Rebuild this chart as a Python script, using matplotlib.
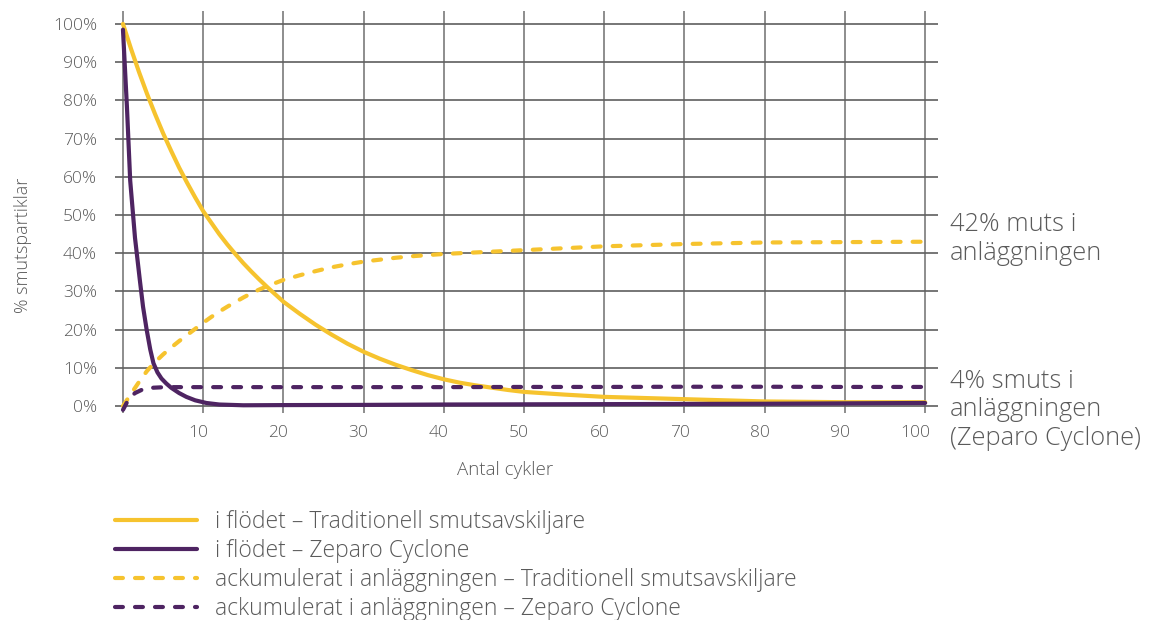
import numpy as np
import matplotlib
matplotlib.use("Agg")
import matplotlib.pyplot as plt
import matplotlib.transforms as mtransforms

plt.rcParams['font.family'] = ['Open Sans', 'DejaVu Sans']
plt.rcParams['font.weight'] = 'light'

# values (cycles, % of dirt particles)
trad_x = [0, 1, 2, 3, 4, 5, 6, 7, 8, 9, 10, 11, 12, 13, 14, 15, 16, 17, 18, 19, 20,
          22, 24, 26, 28, 30, 32, 34, 36, 38, 40, 42, 44, 46, 48, 50, 55, 60, 65, 70, 75, 80, 90, 100]
trad_flow = [100, 93.5, 87.4, 81.7, 76.4, 71.4, 66.8, 62.4, 58.4, 54.6, 51, 48, 45, 42.3, 39.8, 37.4, 35.2, 33.1, 31.1, 29.2, 27.3,
             24.2, 21.3, 18.7, 16.3, 14.2, 12.4, 10.8, 9.4, 8.1, 7.0, 6.1, 5.4, 4.8, 4.2, 3.7, 3.0, 2.4, 2.1, 1.8, 1.5, 1.2, 1.0, 1.0]
trad_acc = [0, 3.2, 6.3, 9.2, 11.5, 13.5, 15.3, 17, 18.6, 20.2, 21.8, 23.3, 24.7, 26.0, 27.2, 28.4, 29.5, 30.5, 31.4, 32.2, 33.0,
            34.2, 35.3, 36.3, 37.1, 37.8, 38.3, 38.8, 39.2, 39.5, 39.8, 40.0, 40.2, 40.4, 40.6, 40.8, 41.3, 41.8, 42.1, 42.4, 42.6, 42.8, 42.9, 43.0]

zep_x = [0, 0.5, 0.9, 1.5, 2.1, 2.5, 2.95, 3.4, 3.8, 4.3, 4.8, 5.4, 6, 7, 7.9, 9, 10.4, 12, 15, 20, 30, 40, 50, 60, 70, 80, 90, 100]
zep_flow = [98.5, 78, 59, 44, 33, 26, 20, 14.8, 11.2, 8.8, 7.2, 5.9, 4.8, 3.4, 2.4, 1.5, 0.8, 0.4, 0.2, 0.25, 0.3, 0.4, 0.45, 0.5, 0.55, 0.6, 0.7, 0.8]
zep_acc = [-1.0, 1.0, 2.2, 3.4, 4.0, 4.4, 4.6, 4.7, 4.8, 4.85, 4.9, 4.95, 4.95, 4.95, 4.95, 4.95, 4.95, 4.95, 4.95, 4.95, 4.95, 4.95, 5.0, 5.0, 5.05, 5.05, 5.0, 5.0]

x_ticks = [10, 20, 30, 40, 50, 60, 70, 80, 90, 100]
y_ticks = [0, 10, 20, 30, 40, 50, 60, 70, 80, 90, 100]

labels = ["i flödet – Traditionell smutsavskiljare",
          "i flödet – Zeparo Cyclone",
          "ackumulerat i anläggningen – Traditionell smutsavskiljare",
          "ackumulerat i anläggningen – Zeparo Cyclone"]

yellow = "#F6C32E"
purple = "#4E2462"
grey = "#5a5a5a"
dash = (0, (1.9, 2.9))

fig = plt.figure(figsize=(11.53, 6.2), dpi=100)
ax = fig.add_axes([0.0997, 0.334, 0.7138, 0.649])

l1, = ax.plot(trad_x, trad_flow, color=yellow, lw=3, solid_capstyle='round', zorder=3)
l2, = ax.plot(zep_x, zep_flow, color=purple, lw=3, solid_capstyle='round', zorder=4)
l3, = ax.plot(trad_x, trad_acc, color=yellow, lw=3, linestyle=dash, dash_capstyle='round', zorder=3)
l4, = ax.plot(zep_x, zep_acc, color=purple, lw=3, linestyle=dash, dash_capstyle='round', zorder=4)

ax.set_xlim(-1, 101.6)
ax.set_ylim(-1.8, 103.5)
for v in [0] + x_ticks:
    ax.axvline(v, color="#7a7a7a", lw=1.2, zorder=1)
for v in y_ticks:
    ax.axhline(v, color="#5f5f5f", lw=1.2, zorder=1)

ax.set_xticks(x_ticks)
ax.set_xticklabels([str(t) for t in x_ticks])
ax.set_yticks(y_ticks)
ax.set_yticklabels([f"{t}%" for t in y_ticks])
ax.tick_params(length=0, labelsize=12.5, colors=grey)
ax.tick_params(axis='y', pad=13)
ax.tick_params(axis='x', pad=9)
offset = mtransforms.ScaledTranslation(5 / 100, 0, fig.dpi_scale_trans)
for lab in ax.get_xticklabels():
    lab.set_horizontalalignment('right')
    lab.set_transform(lab.get_transform() + offset)
for s in ax.spines.values():
    s.set_visible(False)

fig.text(505 / 1153, 1 - 470 / 620, "Antal cykler", fontsize=13.5, color=grey,
         ha='center', va='center')
fig.text(23 / 1153, 1 - 245 / 620, "% smutspartiklar", rotation=90, fontsize=13, color=grey,
         ha='center', va='center')

fig.text(950 / 1153, 1 - 239 / 620, "42% muts i\nanläggningen", fontsize=18.3, color=grey,
         ha='left', va='center', linespacing=1.17)
fig.text(950 / 1153, 1 - 410 / 620, "4% smuts i\nanläggningen\n(Zeparo Cyclone)", fontsize=18.3, color=grey,
         ha='left', va='center', linespacing=1.17)

fig.legend([l1, l2, l3, l4], labels, loc='upper left', bbox_to_anchor=(0.0997, 0.178),
           frameon=False, fontsize=16.5, labelcolor=grey, handlelength=3.6,
           handletextpad=0.78, labelspacing=0.22, borderpad=0, borderaxespad=0)

fig.savefig("out.png", dpi=100)
